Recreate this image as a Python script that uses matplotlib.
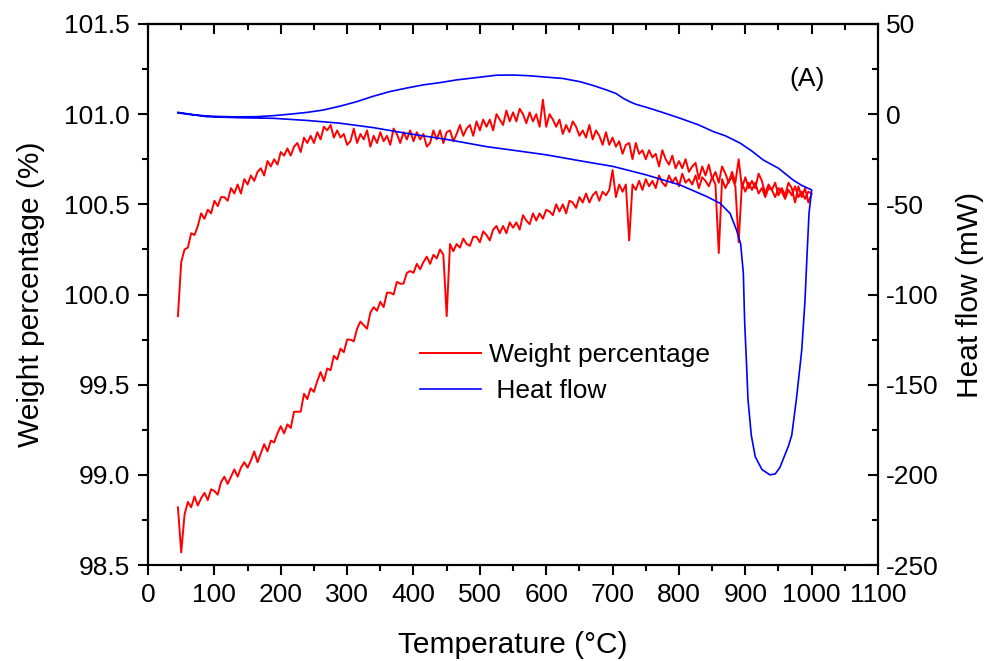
import numpy as np
import matplotlib
matplotlib.use('Agg')
import matplotlib.pyplot as plt
from matplotlib import font_manager
from matplotlib.ticker import MultipleLocator, FormatStrFormatter

plt.rcParams['font.family'] = ['Liberation Sans', 'DejaVu Sans']
plt.rcParams['axes.unicode_minus'] = False

# narrow face for the x tick labels if it is there
names = {f.name for f in font_manager.fontManager.ttflist}
narrow = 'Liberation Sans Narrow' if 'Liberation Sans Narrow' in names else 'Liberation Sans'

# temperature grid of the TGA trace (every 5 C)
temp = np.arange(45, 1001, 5)

# weight on heating, 45 -> 1000 C
weight_heat = [
    98.82, 98.57, 98.78, 98.85, 98.82, 98.88, 98.83, 98.87, 98.90, 98.86,
    98.92, 98.91, 98.89, 98.96, 98.99, 98.95, 98.99, 99.03, 98.99, 99.04,
    99.07, 99.04, 99.08, 99.13, 99.07, 99.12, 99.17, 99.13, 99.19, 99.18,
    99.23, 99.27, 99.23, 99.28, 99.26, 99.35, 99.35, 99.35, 99.45, 99.42,
    99.48, 99.46, 99.52, 99.57, 99.52, 99.59, 99.58, 99.66, 99.64, 99.70,
    99.68, 99.75, 99.75, 99.74, 99.81, 99.85, 99.83, 99.81, 99.90, 99.93,
    99.91, 99.96, 99.93, 100.01, 100.01, 100.00, 100.07, 100.06, 100.06, 100.12,
    100.13, 100.12, 100.17, 100.14, 100.18, 100.21, 100.17, 100.22, 100.20, 100.25,
    100.22, 99.88, 100.28, 100.24, 100.28, 100.26, 100.31, 100.28, 100.27, 100.32,
    100.32, 100.29, 100.35, 100.33, 100.30, 100.36, 100.38, 100.34, 100.38, 100.34,
    100.40, 100.37, 100.40, 100.36, 100.44, 100.41, 100.39, 100.45, 100.41, 100.45,
    100.42, 100.47, 100.46, 100.44, 100.50, 100.46, 100.50, 100.45, 100.52, 100.51,
    100.48, 100.54, 100.51, 100.56, 100.51, 100.55, 100.57, 100.52, 100.57, 100.55,
    100.58, 100.69, 100.54, 100.61, 100.57, 100.61, 100.30, 100.61, 100.58, 100.63,
    100.58, 100.64, 100.60, 100.63, 100.59, 100.66, 100.62, 100.60, 100.66, 100.62,
    100.65, 100.60, 100.67, 100.62, 100.64, 100.61, 100.66, 100.59, 100.65, 100.63,
    100.60, 100.65, 100.61, 100.23, 100.64, 100.59, 100.63, 100.65, 100.60, 100.29,
    100.62, 100.57, 100.62, 100.58, 100.62, 100.56, 100.59, 100.54, 100.59, 100.58,
    100.54, 100.59, 100.57, 100.53, 100.58, 100.55, 100.60, 100.54, 100.57, 100.53,
    100.57, 100.56,
]

# weight on cooling, 1000 -> 45 C
weight_cool = [
    100.56, 100.51, 100.59, 100.54, 100.60, 100.51, 100.59, 100.62, 100.55, 100.59,
    100.55, 100.62, 100.58, 100.61, 100.56, 100.63, 100.67, 100.59, 100.63, 100.59,
    100.65, 100.59, 100.75, 100.62, 100.68, 100.62, 100.67, 100.71, 100.62, 100.68,
    100.64, 100.72, 100.66, 100.71, 100.64, 100.73, 100.71, 100.68, 100.75, 100.70,
    100.74, 100.70, 100.77, 100.72, 100.75, 100.80, 100.71, 100.78, 100.76, 100.80,
    100.75, 100.80, 100.78, 100.84, 100.75, 100.84, 100.83, 100.78, 100.85, 100.82,
    100.87, 100.83, 100.90, 100.83, 100.88, 100.91, 100.86, 100.94, 100.87, 100.91,
    100.88, 100.93, 100.96, 100.90, 100.94, 100.89, 100.97, 100.93, 100.97, 101.00,
    100.93, 101.08, 100.93, 101.00, 100.96, 101.01, 100.95, 101.00, 101.03, 100.96,
    101.01, 100.96, 101.02, 100.94, 100.97, 101.00, 100.91, 100.97, 100.93, 100.97,
    100.91, 100.96, 100.88, 100.94, 100.92, 100.88, 100.94, 100.89, 100.85, 100.91,
    100.90, 100.84, 100.91, 100.86, 100.91, 100.84, 100.82, 100.89, 100.86, 100.90,
    100.85, 100.91, 100.86, 100.90, 100.84, 100.89, 100.92, 100.83, 100.88, 100.85,
    100.90, 100.84, 100.88, 100.82, 100.91, 100.86, 100.89, 100.84, 100.92, 100.85,
    100.83, 100.89, 100.87, 100.91, 100.87, 100.94, 100.91, 100.93, 100.86, 100.90,
    100.84, 100.88, 100.84, 100.87, 100.79, 100.84, 100.82, 100.77, 100.81, 100.77,
    100.79, 100.72, 100.75, 100.71, 100.74, 100.66, 100.70, 100.68, 100.63, 100.66,
    100.61, 100.64, 100.56, 100.61, 100.56, 100.59, 100.52, 100.54, 100.54, 100.49,
    100.52, 100.45, 100.47, 100.42, 100.45, 100.38, 100.33, 100.34, 100.26, 100.25,
    100.18, 99.88,
]

# DSC heat flow: heating branch then cooling branch
hf_temp = [45, 60, 88, 140, 189, 240, 289, 340, 389, 450, 510, 550, 601, 650,
           701, 751, 802, 842, 862, 877, 887, 893, 897, 899, 902, 904, 909, 915,
           925, 937, 945, 952, 965, 970, 977, 985, 990, 993, 996, 1000,
           985, 972, 950, 927, 910, 892, 870, 852, 830, 802, 775, 751, 735, 726,
           716, 705, 691, 670, 651, 625, 601, 575, 550, 525, 500, 465, 440, 414,
           390, 364, 340, 314, 290, 264, 240, 214, 190, 164, 130, 100, 70, 45]
heat_flow = [1.0, 0.2, -1.4, -2.0, -2.3, -3.5, -5.0, -7.5, -10.6, -14.0, -18.0,
             -20.0, -22.6, -25.8, -29.0, -33.7, -39.3, -45.7, -49.4, -55.0, -64.5,
             -72.0, -88.0, -115.0, -140.0, -158.0, -178.0, -190.0, -197.0, -200.0,
             -199.5, -196.0, -184.0, -178.0, -158.0, -131.0, -103.0, -78.0, -55.0,
             -42.0,
             -39.5, -36.5, -30.0, -25.4, -20.5, -16.0, -12.0, -9.7, -6.0, -2.3, 1.0,
             3.8, 5.5, 6.9, 8.8, 11.5, 13.4, 16.0, 18.0, 19.8, 20.5, 21.3, 21.7,
             21.6, 20.5, 19.0, 17.5, 16.2, 14.5, 12.5, 10.0, 6.9, 4.5, 2.3, 1.0,
             0.0, -0.8, -1.4, -1.5, -1.2, -0.5, 0.7]

fig = plt.figure(figsize=(9.87, 6.61), dpi=100)
ax = fig.add_axes([0.150, 0.1452, 0.7396, 0.8185])
ax2 = ax.twinx()

# weight loop (heating + cooling in one trace)
w_t = np.concatenate([temp, temp[::-1]])
w_v = np.concatenate([weight_heat, weight_cool])
l1, = ax.plot(w_t, w_v, color='#ff0000', lw=1.4)
l2, = ax2.plot(hf_temp, heat_flow, color='#0000ff', lw=1.2)

ax.set_xlim(0, 1100)
ax.set_ylim(98.5, 101.5)
ax2.set_ylim(-250, 50)

ax.xaxis.set_major_locator(MultipleLocator(100))
ax.xaxis.set_minor_locator(MultipleLocator(50))
ax.yaxis.set_major_locator(MultipleLocator(0.5))
ax.yaxis.set_minor_locator(MultipleLocator(0.25))
ax.yaxis.set_major_formatter(FormatStrFormatter('%.1f'))
ax2.yaxis.set_major_locator(MultipleLocator(50))
ax2.yaxis.set_minor_locator(MultipleLocator(25))

ax.tick_params(axis='both', which='both', direction='out', width=1.5,
               labelsize=19, top=False, right=False)
ax.tick_params(which='major', length=7, pad=6)
ax.tick_params(which='minor', length=4)
ax.tick_params(axis='x', labelfontfamily=narrow)
ax2.tick_params(axis='y', which='both', direction='in', width=1.5, labelsize=19)
ax2.tick_params(which='major', length=7, pad=6)
ax2.tick_params(which='minor', length=4)

top = ax.secondary_xaxis('top')
top.xaxis.set_major_locator(MultipleLocator(100))
top.xaxis.set_minor_locator(MultipleLocator(50))
top.tick_params(which='both', direction='in', width=1.5, labeltop=False)
top.tick_params(which='major', length=7)
top.tick_params(which='minor', length=4)

for a in (ax, ax2, top):
    for s in a.spines.values():
        s.set_linewidth(1.5)

ax.set_xlabel('Temperature (°C)', fontsize=21.5, labelpad=17)
ax.set_ylabel('Weight percentage (%)', fontsize=21.5, labelpad=14)
ax2.set_ylabel('Heat flow (mW)', fontsize=21.5, labelpad=12)

ax.text(0.903, 0.898, '(A)', transform=ax.transAxes, fontsize=19,
        ha='center', va='center')

ax2.legend([l1, l2], ['Weight percentage', ' Heat flow'], loc='upper left',
           bbox_to_anchor=(0.3726, 0.410), frameon=False, fontsize=19,
           borderaxespad=0, borderpad=0, handlelength=2.3,
           handletextpad=0.3, labelspacing=0.45)

fig.savefig('out.png', dpi=100)
